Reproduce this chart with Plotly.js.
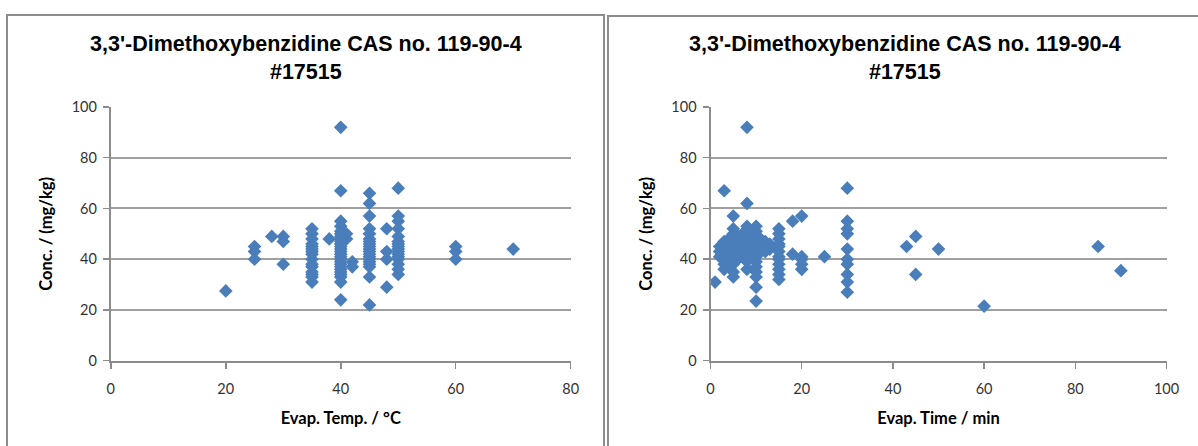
<!DOCTYPE html>
<html>
<head>
<meta charset="utf-8">
<script src="https://cdn.plot.ly/plotly-3.0.1.min.js"></script>
<style>html,body{margin:0;padding:0;background:#fff;}#chart{width:1198px;height:446px;}</style>
</head>
<body>
<div id="chart"></div>
<script>
// ---- Data: Concentration vs Evaporation Temperature ----
const tempX = [
  20,
  25, 25, 25,
  28,
  30, 30, 30,
  35, 35, 35, 35, 35, 35, 35, 35, 35, 35, 35, 35, 35, 35, 35,
  38,
  40, 40, 40, 40, 40, 40, 40, 40, 40, 40, 40, 40, 40, 40, 40, 40, 40, 40, 40, 40, 40, 40, 40, 40, 40,
  41, 41,
  42, 42,
  45, 45, 45, 45, 45, 45, 45, 45, 45, 45, 45, 45, 45, 45, 45, 45, 45, 45, 45,
  48, 48, 48, 48,
  50, 50, 50, 50, 50, 50, 50, 50, 50, 50, 50, 50, 50, 50, 50, 50,
  60, 60, 60,
  70
];
const tempConc = [
  27.5,
  45, 43, 40,
  49,
  49, 47, 38,
  52, 50, 48, 46, 45, 44, 43, 42, 40, 38, 37, 35, 34, 33, 31,
  48,
  92, 67, 55, 53, 51, 50, 49, 48, 47, 46, 45, 44, 43, 42, 41, 40, 39, 38, 37, 36, 35, 34, 33, 31, 24,
  50, 48,
  39, 37,
  66, 62, 57, 52, 50, 48, 47, 46, 45, 44, 43, 42, 41, 40, 39, 38, 37, 33, 22,
  52, 43, 40, 29,
  68, 57, 55, 52, 49, 47, 46, 45, 44, 43, 42, 41, 40, 38, 36, 34,
  45, 43, 40,
  44
];

// ---- Data: Concentration vs Evaporation Time ----
const timeX = [
  1,
  2, 2, 2,
  3, 3, 3, 3, 3, 3, 3,
  4, 4, 4, 4, 4, 4,
  5, 5, 5, 5, 5, 5, 5, 5, 5, 5, 5,
  6, 6, 6, 6,
  7, 7, 7, 7,
  8, 8, 8, 8, 8, 8, 8, 8, 8, 8, 8,
  9, 9, 9, 9,
  10, 10, 10, 10, 10, 10, 10, 10, 10, 10, 10, 10, 10,
  11, 11, 11,
  12, 12, 12,
  13, 13,
  15, 15, 15, 15, 15, 15, 15, 15, 15, 15, 15, 15,
  18, 18,
  20, 20, 20, 20, 20,
  25,
  30, 30, 30, 30, 30, 30, 30, 30, 30, 30,
  43,
  45, 45,
  50,
  60,
  85,
  90
];
const timeConc = [
  31,
  45, 43, 41,
  67, 47, 44, 42, 40, 38, 36,
  48, 46, 43, 41, 39, 37,
  57, 52, 50, 48, 46, 44, 42, 40, 38, 35, 33,
  49, 45, 43, 40,
  50, 47, 44, 41,
  92, 62, 53, 51, 49, 47, 45, 43, 41, 39, 36,
  50, 46, 44, 42,
  53, 51, 49, 47, 45, 43, 41, 39, 37, 35, 33, 29, 23.5,
  48, 45, 43,
  47, 45, 43,
  46, 44,
  52, 50, 48, 46, 45, 43, 41, 40, 38, 36, 34, 32,
  55, 42,
  57, 41, 40, 38, 36,
  41,
  68, 55, 52, 50, 44, 40, 38, 34, 31, 27,
  45,
  49, 34,
  44,
  21.5,
  45,
  35.5
];

const chartTitle = "3,3'-Dimethoxybenzidine CAS no. 119-90-4<br>#17515";
const yTitle = "Conc. / (mg/kg)";
const xTitleLeft = "Evap. Temp. / °C";
const xTitleRight = "Evap. Time / min";

const W = 1198, H = 446;
const px = v => v / W;
const py = v => (H - v) / H;

const markerStyle = {symbol: 'diamond', size: 10.5, color: '#4a7ebb', line: {width: 0}};

const traces = [
  {x: tempX, y: tempConc, type: 'scatter', mode: 'markers', marker: markerStyle, xaxis: 'x', yaxis: 'y', showlegend: false, hoverinfo: 'x+y'},
  {x: timeX, y: timeConc, type: 'scatter', mode: 'markers', marker: markerStyle, xaxis: 'x2', yaxis: 'y2', showlegend: false, hoverinfo: 'x+y'}
];

const tickFont = {family: 'Lato, "Open Sans", sans-serif', size: 14.5, color: '#333'};
const axTitleFont = {family: 'Lato, "Open Sans", sans-serif', size: 16.5, color: '#000', weight: 'bold'};

function xAxis(domain, range, dtick, title, anchor) {
  return {
    domain: domain, range: range, dtick: dtick, tick0: 0,
    showgrid: false, zeroline: false,
    showline: true, linecolor: '#8c8c8c', linewidth: 2,
    ticks: 'outside', ticklen: 6, tickwidth: 1.5, tickcolor: '#8c8c8c',
    tickfont: tickFont, anchor: anchor, fixedrange: true,
    ticklabelstandoff: 8,
    title: {text: title, font: axTitleFont, standoff: 16}
  };
}
function yAxis(domain, title, anchor) {
  return {
    domain: domain, range: [0, 100.001], dtick: 20, tick0: 0,
    showgrid: true, gridcolor: '#a0a0a0', gridwidth: 2,
    zeroline: false,
    showline: true, linecolor: '#8c8c8c', linewidth: 2,
    ticks: 'outside', ticklen: 6, tickwidth: 1.5, tickcolor: '#8c8c8c',
    tickfont: tickFont, anchor: anchor, fixedrange: true,
    ticklabelstandoff: 3,
    title: {text: title, font: axTitleFont, standoff: 15}
  };
}

const yDom = [py(360.7), py(107)];

const layout = {
  width: W, height: H,
  margin: {l: 0, r: 0, t: 0, b: 0},
  paper_bgcolor: '#fff', plot_bgcolor: '#fff',
  showlegend: false,
  xaxis: xAxis([px(110.8), px(570.7)], [0, 80], 20, xTitleLeft, 'y'),
  yaxis: yAxis(yDom, yTitle, 'x'),
  xaxis2: xAxis([px(710.5), px(1166.5)], [0, 100], 20, xTitleRight, 'y2'),
  yaxis2: yAxis(yDom, yTitle, 'x2'),
  shapes: [
    {type: 'rect', xref: 'paper', yref: 'paper', x0: px(7), x1: px(604), y0: -0.2, y1: py(15), line: {color: '#8c8c8c', width: 2}, fillcolor: 'rgba(0,0,0,0)', layer: 'below'},
    {type: 'rect', xref: 'paper', yref: 'paper', x0: px(608), x1: 1.2, y0: -0.2, y1: py(16), line: {color: '#8c8c8c', width: 2}, fillcolor: 'rgba(0,0,0,0)', layer: 'below'}
  ],
  annotations: [
    {text: '<b>' + chartTitle + '</b>', xref: 'paper', yref: 'paper', x: px(306), y: py(58), xanchor: 'center', yanchor: 'middle', showarrow: false,
     font: {family: '"Liberation Sans", Arial, sans-serif', size: 21.5, color: '#000'}},
    {text: '<b>' + chartTitle + '</b>', xref: 'paper', yref: 'paper', x: px(905), y: py(58), xanchor: 'center', yanchor: 'middle', showarrow: false,
     font: {family: '"Liberation Sans", Arial, sans-serif', size: 21.5, color: '#000'}}
  ]
};

Plotly.newPlot('chart', traces, layout, {displayModeBar: false, staticPlot: true});
</script>
</body>
</html>
